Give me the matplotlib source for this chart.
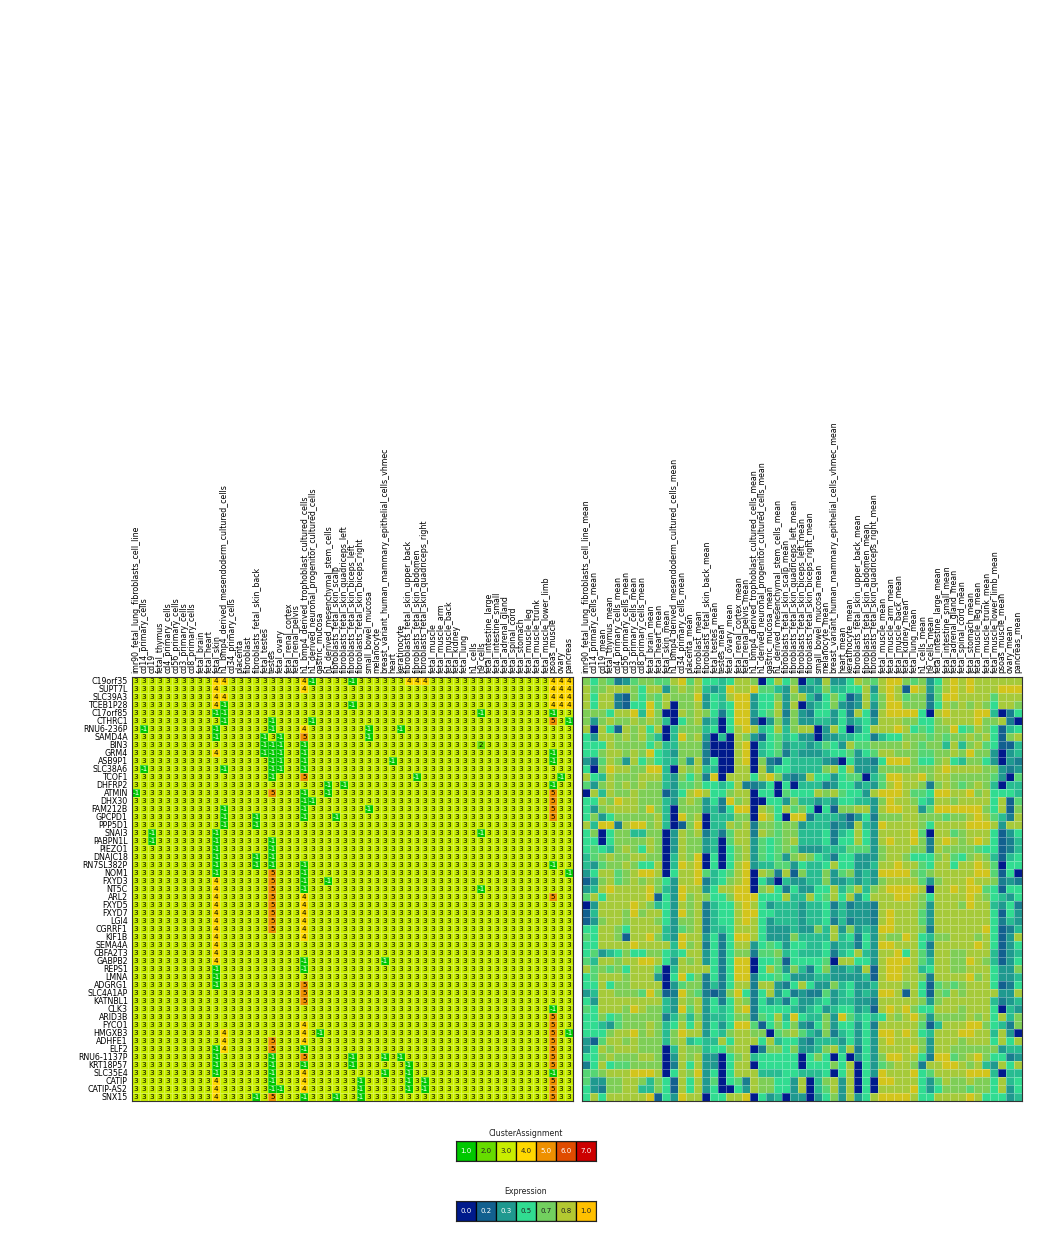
import numpy as np
import matplotlib
matplotlib.use("Agg")
import matplotlib.pyplot as plt
from matplotlib.colors import ListedColormap, BoundaryNorm, LinearSegmentedColormap

genes = ["C19orf35", "SUPT7L", "SLC39A3", "TCEB1P28", "C17orf85", "CTHRC1", "RNU6-236P", "SAMD4A", "BIN3", "GRM4",
         "ASB9P1", "SLC38A6", "TCOF1", "DHFRP2", "ATMIN", "DHX30", "FAM212B", "GPCPD1", "PPP5D1", "SNAI3",
         "PABPN1L", "PIEZO1", "DNAJC18", "RN7SL382P", "NOM1", "FXYD3", "NT5C", "ARL2", "FXYD5", "FXYD7",
         "LGI4", "CGRRF1", "KIF1B", "SEMA4A", "CBFA2T3", "GABPB2", "REPS1", "LMNA", "ADGRG1", "SLC4A1AP",
         "KATNBL1", "CLK3", "ARID3B", "FYCO1", "HMGXB3", "ADHFE1", "ELF2", "RNU6-1137P", "KRT18P57", "SLC35E4",
         "CATIP", "CATIP-AS2", "SNX15"]

tissues = ["imr90_fetal_lung_fibroblasts_cell_line", "cd14_primary_cells", "cd19", "fetal_thymus", "cd4_primary_cells",
           "cd56_primary_cells", "cd3_primary_cells", "cd8_primary_cells", "fetal_brain", "fetal_heart", "fetal_skin",
           "h1_bmp4_derived_mesendoderm_cultured_cells", "cd34_primary_cells", "placenta", "fibroblast",
           "fibroblasts_fetal_skin_back", "fetal_testes", "testes", "fetal_ovary", "fetal_renal_cortex",
           "fetal_renal_pelvis", "h1_bmp4_derived_trophoblast_cultured_cells",
           "h1_derived_neuronal_progenitor_cultured_cells", "gastric_mucosa", "h1_derived_mesenchymal_stem_cells",
           "fibroblasts_fetal_skin_scalp", "fibroblasts_fetal_skin_quadriceps_left", "fibroblasts_fetal_skin_biceps_left",
           "fibroblasts_fetal_skin_biceps_right", "small_bowel_mucosa", "melanocyte",
           "breast_variant_human_mammary_epithelial_cells_vhmec", "heart", "keratinocyte",
           "fibroblasts_fetal_skin_upper_back", "fibroblasts_fetal_skin_abdomen", "fibroblasts_fetal_skin_quadriceps_right",
           "fetal_muscle", "fetal_muscle_arm", "fetal_muscle_back", "fetal_kidney", "fetal_lung", "h1_cells", "h9_cells",
           "fetal_intestine_large", "fetal_intestine_small", "fetal_adrenal_gland", "fetal_spinal_cord", "fetal_stomach",
           "fetal_muscle_leg", "fetal_muscle_trunk", "fetal_muscle_lower_limb", "psoas_muscle", "ovary", "pancreas"]

# every cell is cluster 3 except these (gene -> cluster -> column numbers)
cluster_special = {
    "C19orf35": {4: [10, 11, 21, 34, 35, 36, 52, 53, 54], -1: [22, 27]},
    "SUPT7L": {4: [10, 21, 52, 53, 54]},
    "SLC39A3": {4: [10, 11, 52, 53, 54]},
    "TCEB1P28": {4: [10, 52, 53, 54], -1: [11, 27]},
    "C17orf85": {-1: [10, 11, 43, 52]},
    "CTHRC1": {-1: [11, 17, 22, 54], 5: [52]},
    "RNU6-236P": {-1: [1, 10, 17, 29, 33], 4: [21]},
    "SAMD4A": {-1: [10, 16, 18, 29], 5: [21]},
    "BIN3": {-1: [16, 17, 18, 21], 2: [43]},
    "GRM4": {4: [10], -1: [16, 17, 18, 21, 52]},
    "ASB9P1": {-1: [17, 18, 21, 32, 52]},
    "SLC38A6": {-1: [1, 11, 17, 18, 21]},
    "TCOF1": {-1: [17, 35, 53], 5: [21]},
    "DHFRP2": {-1: [24, 26, 52]},
    "ATMIN": {-1: [0, 21, 24], 5: [17, 52]},
    "DHX30": {-1: [21, 22], 5: [52]},
    "FAM212B": {-1: [11, 21, 29], 5: [52]},
    "GPCPD1": {-1: [11, 15, 21, 25], 5: [52]},
    "PPP5D1": {-1: [11, 15]},
    "SNAI3": {-1: [2, 10, 43]},
    "PABPN1L": {-1: [2, 10, 17]},
    "PIEZO1": {-1: [10, 17]},
    "DNAJC18": {-1: [10, 15, 17]},
    "RN7SL382P": {-1: [10, 15, 17, 21, 52]},
    "NOM1": {-1: [10, 21, 54], 5: [17]},
    "FXYD3": {4: [10], 5: [17], -1: [21, 24]},
    "NT5C": {4: [10], 5: [17], -1: [21, 43]},
    "ARL2": {4: [10, 21], 5: [17, 52]},
    "FXYD5": {4: [10, 21], 5: [17]},
    "FXYD7": {4: [10, 21], 5: [17]},
    "LGI4": {4: [10, 21], 5: [17]},
    "CGRRF1": {4: [10, 21], 5: [17]},
    "KIF1B": {4: [10, 21]},
    "SEMA4A": {4: [10]},
    "CBFA2T3": {4: [10]},
    "GABPB2": {4: [10], -1: [21, 31]},
    "REPS1": {-1: [10, 21]},
    "LMNA": {-1: [10]},
    "ADGRG1": {-1: [10], 5: [21]},
    "SLC4A1AP": {5: [21]},
    "KATNBL1": {5: [21]},
    "CLK3": {-1: [52]},
    "ARID3B": {5: [52]},
    "FYCO1": {4: [21], 5: [52]},
    "HMGXB3": {4: [11, 21], -1: [23, 54], 5: [52]},
    "ADHFE1": {4: [11, 21], 5: [17, 52]},
    "ELF2": {-1: [10, 21], 4: [11], 5: [17, 52]},
    "RNU6-1137P": {-1: [10, 17, 27, 31, 33], 5: [21, 52]},
    "KRT18P57": {-1: [10, 17, 21, 27, 34], 5: [52]},
    "SLC35E4": {-1: [10, 17, 31, 34, 52], 4: [21]},
    "CATIP": {4: [10, 21], -1: [17, 28, 34, 36], 5: [52]},
    "CATIP-AS2": {4: [10, 21], -1: [17, 18, 28, 34, 36], 5: [52]},
    "SNX15": {4: [10], -1: [15, 21, 25, 28], 5: [17, 52]},
}

# expression, one digit per cell, see expr_levels
expr_rows = [
    "7576236776" "6896855458" "87058570" "4383358768" "9976735898" "9888888",
    "8678887588" "3787843498" "89664383" "3474455838" "9819836898" "9888999",
    "8588217576" "8777935489" "93557378" "4257513847" "9867726998" "8886888",
    "8588215596" "8077835459" "93558380" "3457323837" "9977725878" "7875887",
    "7775889497" "0087875259" "93568273" "2553528528" "9999508988" "8994025",
    "7378778787" "4057834059" "92037373" "3443534538" "8877557888" "8977820",
    "8085187858" "0477745058" "98458478" "8038503588" "8985657795" "6875145",
    "5388787864" "0497830408" "73156453" "3033445524" "5577767677" "8785178",
    "5558777757" "4477720008" "90456344" "3465386677" "7787677484" "7865114",
    "5578878795" "4377720008" "90456243" "3345563568" "8777667787" "9773034",
    "3168738575" "4473825008" "90721544" "4432053325" "9997557854" "7753032",
    "5079887799" "4087844008" "80835544" "4478583337" "7777778988" "8877323",
    "8548777888" "4375729088" "85897323" "8553566046" "9988978877" "7776306",
    "6378787877" "4366755458" "22350504" "4423553436" "8988727876" "7874044",
    "0848778777" "1358985578" "80550655" "5878655389" "9986659988" "9785554",
    "5587988777" "4378735297" "80055374" "4343554437" "9887548878" "8885816",
    "5378888797" "4077734259" "90875867" "5051778838" "9988369999" "9975817",
    "5735777778" "4097804447" "70985099" "2444313527" "7788777677" "8986428",
    "8499289978" "4017904487" "82776773" "4442328439" "8888758888" "9998388",
    "5705774477" "0387824268" "82876774" "4452458538" "8889608867" "8885135",
    "5505777787" "0387734068" "83656784" "4452558538" "9889728987" "8985124",
    "5654787587" "0387734057" "83656763" "3344466637" "8887728777" "7655124",
    "4678778877" "0487905057" "83656378" "7542553337" "8875557865" "7874145",
    "4367787558" "0498905058" "93446635" "4458553348" "8988658858" "8986055",
    "3588678998" "0588964568" "90872817" "4473673439" "9997678888" "8996150",
    "1378678787" "5388924578" "90530433" "4473343437" "8888637888" "9887232",
    "3489888897" "4398835889" "90785253" "3558468478" "9999808898" "9965155",
    "6858888891" "5397875579" "99555844" "8568583588" "8998758888" "9875435",
    "0388889874" "5387824558" "98534443" "4452423328" "8888738887" "9884352",
    "1488879788" "5397824558" "99554443" "4453433328" "9888638888" "8885153",
    "1378878887" "5377824558" "98534443" "4452423328" "9888638888" "8885243",
    "5588758888" "4367824458" "88533343" "3748373439" "9888728888" "8895124",
    "6588718897" "4398835259" "98533374" "4448452538" "7798547788" "8785138",
    "5588889888" "8497825258" "83565355" "4453442539" "9888528888" "8985135",
    "5634575577" "5458835257" "72667454" "4452458438" "8958638877" "8884134",
    "6488788998" "5387835259" "90556155" "5560885538" "9998648877" "9874135",
    "8676758886" "0488885259" "90586374" "2573343818" "9988458877" "8885337",
    "5688878883" "0595725259" "92556533" "3443333418" "9988728888" "9785334",
    "5585778888" "0367724258" "82883258" "5337453348" "8878516767" "8885125",
    "3488777697" "1297621279" "52583523" "2263453439" "9818517687" "8888338",
    "5388888888" "4387835258" "72534253" "3453443328" "8888737888" "8884234",
    "6588879877" "4396835458" "92555543" "4534553418" "9897558887" "8885043",
    "5575677777" "2474734457" "72658495" "4473964545" "8789737777" "8785847",
    "5543677787" "4585835359" "96157573" "2573553528" "8888614888" "9975427",
    "5557889787" "4798835478" "87706786" "4372453539" "9898548889" "9884830",
    "3168878777" "4784544858" "88584553" "2444353538" "9888738887" "8885858",
    "3587888777" "0487745578" "80277573" "3478482538" "8889738877" "7777344",
    "5578777887" "0387833057" "84555550" "5750503537" "9988529967" "8975523",
    "2585667777" "0285833058" "80555550" "5557580536" "7887288998" "7843858",
    "6678889998" "0587935058" "88444554" "4450580539" "8889568888" "9994044",
    "6337788747" "5185836056" "28775538" "0478380509" "9888536877" "8775845",
    "5327788447" "5185835005" "38775538" "0468380508" "8889535777" "6775835",
    "5858888891" "5398805588" "90534033" "0357383589" "9998558888" "9855534",
]
expr_levels = [0.0, 0.17, 0.25, 0.33, 0.42, 0.5, 0.6, 0.7, 0.8, 0.9]

cluster_legend = [1.0, 2.0, 3.0, 4.0, 5.0, 6.0, 7.0]
expr_legend = [0.0, 0.17, 0.33, 0.5, 0.67, 0.83, 1.0]

cluster_colors = ["#00c800", "#66dc00", "#c8ee00", "#ffd800", "#ee9000", "#e04c00", "#cc0000"]
expr_colors = ["#001a8c", "#125f8f", "#1f9a8f", "#30dc92", "#70d060", "#b4c830", "#ffc000"]

W, H = 1052, 1242
plt.rcParams['font.family'] = ['DejaVu Sans']


def px_axes(fig, x0, y0, x1, y1):
    # pixel box from top left of the image
    return fig.add_axes([x0 / W, 1 - y1 / H, (x1 - x0) / W, (y1 - y0) / H])


def light_text(rgba):
    return 0.299 * rgba[0] + 0.587 * rgba[1] + 0.114 * rgba[2] < 0.62


cluster = np.full((len(genes), len(tissues)), 3.0)
for g, special in cluster_special.items():
    for val, cols in special.items():
        cluster[genes.index(g), cols] = val
expr = np.array([[expr_levels[int(d)] for d in row] for row in expr_rows])
assert expr.shape == cluster.shape

cl_cmap = ListedColormap(cluster_colors)
# -1 cells take the colour of the first cluster
cl_norm = BoundaryNorm([-2, 1.5, 2.5, 3.5, 4.5, 5.5, 6.5, 7.5], 7)
ex_cmap = LinearSegmentedColormap.from_list("expr", list(zip(np.linspace(0, 1, 7), expr_colors)))

fig = plt.figure(figsize=(W / 100, H / 100), dpi=100)

ax = px_axes(fig, 132, 677, 573, 1101)
ax.pcolormesh(cluster, cmap=cl_cmap, norm=cl_norm, edgecolors=(1, 1, 1, 0.3), linewidth=0.6)
for r in range(len(genes)):
    for c in range(len(tissues)):
        v = cluster[r, c]
        ax.text(c + 0.5, r + 0.5, "%d" % v, ha='center', va='center', fontsize=5.2,
                color='white' if v == -1 else 'black')
ax.set_yticks(np.arange(len(genes)) + 0.5)
ax.set_yticklabels(genes, fontsize=5.7)
ax.set_xticks(np.arange(len(tissues)) + 0.5)
ax.set_xticklabels(tissues, fontsize=5.7, rotation=90)

ax2 = px_axes(fig, 582, 677, 1022, 1101)
ax2.pcolormesh(expr, cmap=ex_cmap, vmin=0, vmax=1, edgecolors=(1, 1, 1, 0.3), linewidth=0.6)
ax2.set_yticks([])
ax2.set_xticks(np.arange(len(tissues)) + 0.5)
ax2.set_xticklabels([t + "_mean" for t in tissues], fontsize=5.7, rotation=90)

for a in (ax, ax2):
    a.invert_yaxis()
    a.xaxis.tick_top()
    a.tick_params(length=0, pad=3)
    for s in a.spines.values():
        s.set_linewidth(0.8)
        s.set_color('#333333')

# legends
for y0, vals, cmap, norm, title, ty in [(1141, cluster_legend, cl_cmap, cl_norm, "ClusterAssignment", 1133),
                                        (1201, expr_legend, ex_cmap, plt.Normalize(0, 1), "Expression", 1192)]:
    lax = px_axes(fig, 456, y0, 596, y0 + 20)
    lax.pcolormesh(np.array([vals]), cmap=cmap, norm=norm, edgecolors=(0, 0, 0, 0.9), linewidth=0.9,
                   antialiased=True)
    for i, v in enumerate(vals):
        rgba = cmap(norm(v))
        lax.text(i + 0.5, 0.5, "%.1f" % v, ha='center', va='center', fontsize=5,
                 color='white' if light_text(rgba) else '#222222')
    lax.set_xticks([])
    lax.set_yticks([])
    for s in lax.spines.values():
        s.set_visible(True)
        s.set_linewidth(0.8)
        s.set_color('#222222')
    fig.text(526 / W, 1 - ty / H, title, ha='center', va='center', fontsize=5.7, color='#222222')

fig.savefig("out.png", dpi=100)
